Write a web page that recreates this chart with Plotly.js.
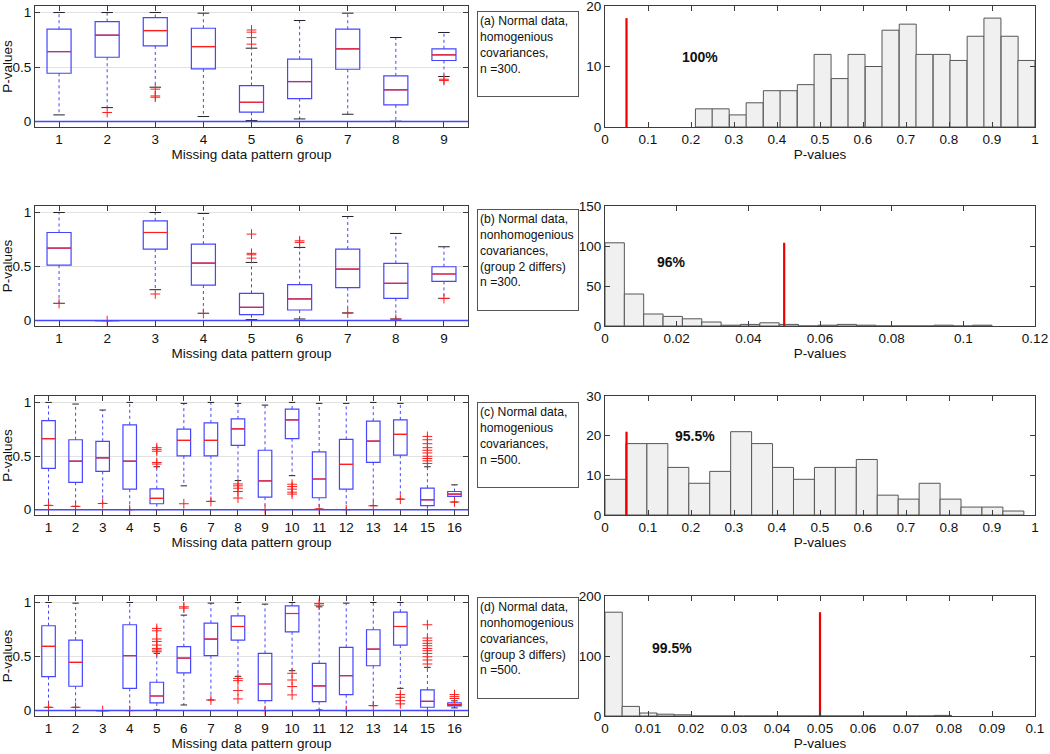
<!DOCTYPE html>
<html><head><meta charset="utf-8">
<script src="https://cdn.plot.ly/plotly-3.0.1.min.js"></script>
<style>html,body{margin:0;padding:0;background:#fff;overflow:hidden}</style>
</head><body><div id="chart" style="width:1050px;height:754px"></div>
<script>
// ---------------- DATA ----------------
// (a) boxplot, 9 groups
const groupsA = [1,2,3,4,5,6,7,8,9];
const q1A  = [0.443,0.590,0.694,0.483,0.086,0.211,0.480,0.153,0.560];
const medA = [0.642,0.792,0.835,0.688,0.177,0.367,0.667,0.291,0.612];
const q3A  = [0.847,0.917,0.954,0.856,0.330,0.572,0.847,0.419,0.667];
const loA  = [0.061,0.128,0.315,0.046,0.009,0.024,0.067,0.003,0.413];
const hiA  = [1.000,1.000,1.000,0.994,0.673,0.927,0.994,0.771,0.817];
const outGA = [2,3,3,3,5,5,5,5,9,9];
const outVA = [0.083,0.297,0.235,0.223,0.84,0.82,0.77,0.71,0.388,0.376];

// (b) boxplot, 9 groups
const groupsB = [1,2,3,4,5,6,7,8,9];
const q1B  = [0.514,0,0.662,0.329,0.055,0.098,0.305,0.206,0.363];
const medB = [0.671,0,0.815,0.532,0.123,0.200,0.477,0.345,0.431];
const q3B  = [0.815,0,0.923,0.708,0.252,0.332,0.662,0.529,0.498];
const loB  = [0.160,0,0.286,0.068,0.009,0.015,0.071,0.015,0.206];
const hiB  = [1.000,0,1.000,0.991,0.538,0.677,0.963,0.806,0.683];
const outGB = [1,2,3,4,5,5,5,5,6,6,7,8,9];
const outVB = [0.158,0.0,0.246,0.066,0.80,0.622,0.609,0.578,0.738,0.723,0.069,0.013,0.204];

// (c) boxplot, 16 groups
const groupsC = [1,2,3,4,5,6,7,8,9,10,11,12,13,14,15,16];
const q1C  = [0.385,0.255,0.357,0.191,0.055,0.502,0.502,0.600,0.117,0.662,0.111,0.191,0.440,0.508,0.037,0.123];
const medC = [0.662,0.452,0.483,0.452,0.105,0.646,0.646,0.754,0.268,0.837,0.286,0.422,0.640,0.702,0.092,0.145];
const q3C  = [0.831,0.652,0.637,0.791,0.194,0.751,0.809,0.846,0.554,0.938,0.538,0.655,0.825,0.837,0.200,0.169];
const loC  = [0.040,0.031,0.058,0.000,0.000,0.222,0.077,0.271,0.000,0.317,0.006,0.000,0.037,0.098,0.000,0.071];
const hiC  = [1.000,0.985,0.929,1.000,0.400,0.991,1.000,0.991,0.975,1.000,0.991,0.991,1.000,0.991,0.400,0.231];
const outGC = [1,2,3,4,5,5,5,5,5,6,7,8,8,8,8,8,9,10,10,10,10,10,11,12,13,14,15,15,15,15,15,15,15,15,15,15,16];
const outVC = [0.039,0.030,0.057,0.0,0.578,0.562,0.545,0.440,0.425,0.055,0.077,0.240,0.222,0.200,0.169,0.108,0.0,0.237,0.215,0.191,0.163,0.145,0.006,0.0,0.036,0.098,0.683,0.652,0.615,0.578,0.554,0.529,0.498,0.477,0.455,0.431,0.071];

// (d) boxplot, 16 groups
const groupsD = [1,2,3,4,5,6,7,8,9,10,11,12,13,14,15,16];
const q1D  = [0.314,0.225,0,0.206,0.071,0.348,0.508,0.652,0.092,0.729,0.083,0.148,0.415,0.606,0.031,0.043];
const medD = [0.594,0.446,0,0.508,0.135,0.486,0.662,0.778,0.246,0.898,0.228,0.323,0.569,0.778,0.086,0.055];
const q3D  = [0.785,0.652,0,0.794,0.262,0.591,0.809,0.877,0.529,0.969,0.437,0.585,0.748,0.911,0.191,0.071];
const loD  = [0.031,0.031,0,0.000,0.006,0.052,0.098,0.317,0.000,0.369,0.006,0.000,0.046,0.206,0.000,0.025];
const hiD  = [1.000,0.994,0,1.000,0.530,0.883,0.994,1.000,0.985,1.000,0.960,0.994,1.000,1.000,0.400,0.090];
const outGD = [1,2,3,4,5,5,5,5,5,5,5,5,6,6,7,8,8,8,8,9,10,10,10,10,11,11,12,13,14,14,14,14,15,15,15,15,15,15,15,15,15,15,15,16,16,16];
const outVD = [0.030,0.030,0.0,0.0,0.760,0.738,0.662,0.640,0.606,0.575,0.560,0.545,0.960,0.948,0.098,0.298,0.277,0.185,0.108,0.0,0.345,0.283,0.222,0.145,0.991,0.975,0.0,0.046,0.148,0.123,0.092,0.062,0.794,0.671,0.646,0.622,0.600,0.575,0.554,0.529,0.498,0.468,0.431,0.148,0.129,0.112];

// Histograms (bin centres, counts, bin width)
const binsA = [0.230,0.269,0.309,0.348,0.388,0.427,0.467,0.506,0.546,0.585,0.625,0.664,0.704,0.743,0.783,0.822,0.862,0.901,0.941,0.980];
const countsA = [3,3,2,4,6,6,7,12,8,12,10,16,17,12,12,11,15,18,15,11];
const widthA = 0.0395;

const binsB = [0.0027,0.0081,0.0135,0.0189,0.0243,0.0297,0.0351,0.0405,0.0459,0.0513,0.0567,0.0621,0.0675,0.0729,0.0783,0.0837,0.0891,0.0945,0.0999,0.1053];
const countsB = [104,40,15,12,9,5,1,2,4,2,0,1,2,1,0,0,0,1,0,1];
const widthB = 0.0054;

const binsC = [0.0244,0.0731,0.1218,0.1705,0.2192,0.2679,0.3166,0.3653,0.4140,0.4627,0.5114,0.5601,0.6088,0.6575,0.7062,0.7549,0.8036,0.8523,0.9010,0.9497];
const countsC = [9,18,18,12,8,11,21,18,12,9,12,12,14,5,4,8,4,2,2,1];
const widthC = 0.0487;

const binsD = [0.0020,0.0060,0.0101,0.0141,0.0181,0.0222,0.0262,0.0302,0.0343,0.0383,0.0423,0.0463,0.0504,0.0544,0.0584,0.0625,0.0665,0.0705,0.0746,0.0786];
const countsD = [173,16,5,3,2,0,0,0,0,0,0,0,0,0,0,0,0,0,0,1];
const widthD = 0.00403;

const alphaLevel = 0.05;
const pctLabels = ['100%','96%','95.5%','99.5%'];
const pctX = [0.22, 0.0186, 0.21, 0.0156];
const pctY = [11.5, 80, 20, 114];

const panelTexts = [
  ['(a) Normal data,','homogenious','covariances,','n =300.'],
  ['(b) Normal data,','nonhomogenious','covariances,','(group 2 differs)','n =300.'],
  ['(c) Normal data,','homogenious','covariances,','n =500.'],
  ['(d) Normal data,','nonhomogenious','covariances,','(group 3 differs)','n =500.']
];
const histRangesX = [[0,1],[0,0.12],[0,1],[0,0.1]];
const histDtickX = [0.1,0.02,0.1,0.01];
const histRangesY = [[0,20],[0,150],[0,30],[0,200]];
const histTicksY = [[0,10,20],[0,50,100,150],[0,10,20,30],[0,100,200]];

// ---------------- BUILD ----------------
const W = 1050, H = 754;
const FONT = "'Liberation Sans',Arial,sans-serif";
const BLUE = 'rgb(70,70,255)', RED = 'rgb(255,30,30)', AX = '#3c3c3c';
const boxDom = [35/W, 468/W], histDom = [605/W, 1035/W];
const rows = [[6,127],[206,326],[396,515],[596,716]];
const textTop = [11,209,402,597];
const ydom = r => [1 - rows[r][1]/H, 1 - rows[r][0]/H];

const boxSets = [
  [groupsA,q1A,medA,q3A,loA,hiA,outGA,outVA],
  [groupsB,q1B,medB,q3B,loB,hiB,outGB,outVB],
  [groupsC,q1C,medC,q3C,loC,hiC,outGC,outVC],
  [groupsD,q1D,medD,q3D,loD,hiD,outGD,outVD]
];
const histSets = [[binsA,countsA,widthA],[binsB,countsB,widthB],[binsC,countsC,widthC],[binsD,countsD,widthD]];

const traces = [], layout = {
  width: W, height: H, margin:{l:0,r:0,t:0,b:0}, showlegend:false,
  paper_bgcolor:'#fff', plot_bgcolor:'#fff',
  font:{family:FONT, size:13, color:'#111'},
  shapes:[], annotations:[]
};

function axBase(extra){
  return Object.assign({showline:true, linecolor:AX, linewidth:1, mirror:'ticks', ticks:'inside',
    ticklen:5, tickcolor:AX, tickwidth:1, zeroline:false, showgrid:false, ticklabeloverflow:'allow',
    tickfont:{family:FONT,size:13.5,color:'#111'}, fixedrange:true}, extra);
}

for (let r=0;r<4;r++){
  const bi = 2*r+1, hi = 2*r+2;
  const bx = 'x'+(bi===1?'':bi), by = 'y'+(bi===1?'':bi);
  const hx = 'x'+hi, hy = 'y'+hi;
  const [g,q1,med,q3,lo,hiv,og,ov] = boxSets[r];
  const n = g.length;
  traces.push({type:'box', x:g, q1:q1, median:med, q3:q3, lowerfence:q1, upperfence:q3,
    width:0.5, whiskerwidth:0, boxpoints:false, line:{color:BLUE,width:1.2},
    fillcolor:'rgba(0,0,0,0)', xaxis:bx, yaxis:by, hoverinfo:'skip'});
  const wx=[], wy=[], cx=[], cy=[], mx=[], my=[];
  g.forEach((gg,i)=>{
    wx.push(gg,gg,null,gg,gg,null); wy.push(q3[i],hiv[i],null,q1[i],lo[i],null);
    cx.push(gg-0.12,gg+0.12,null,gg-0.12,gg+0.12,null); cy.push(hiv[i],hiv[i],null,lo[i],lo[i],null);
    mx.push(gg-0.25,gg+0.25,null); my.push(med[i],med[i],null);
  });
  traces.push({type:'scatter',mode:'lines',x:wx,y:wy,line:{color:BLUE,width:1,dash:'dot'},xaxis:bx,yaxis:by,hoverinfo:'skip'});
  traces.push({type:'scatter',mode:'lines',x:cx,y:cy,line:{color:'#222',width:1},xaxis:bx,yaxis:by,hoverinfo:'skip'});
  traces.push({type:'scatter',mode:'lines',x:mx,y:my,line:{color:RED,width:1.2},xaxis:bx,yaxis:by,hoverinfo:'skip'});
  traces.push({type:'scatter',mode:'markers',x:og,y:ov,marker:{symbol:'cross-thin',size:7,line:{color:RED,width:1}},xaxis:bx,yaxis:by,hoverinfo:'skip'});
  layout.shapes.push({type:'line',xref:bx+' domain',yref:by,x0:0,x1:1,y0:0,y1:0,line:{color:BLUE,width:1.5}});

  layout['xaxis'+(bi===1?'':bi)] = axBase({domain:boxDom, anchor:by, range:[0.5,n+0.5],
    tickmode:'array', tickvals:g, ticktext:g.map(String),
    title:{text:'Missing data pattern group', font:{family:FONT,size:13.5}, standoff:3}});
  layout['yaxis'+(bi===1?'':bi)] = axBase({domain:ydom(r), anchor:bx, range:[-0.05,1.06],
    tickmode:'array', tickvals:[0,0.5,1], ticktext:['0','0.5','1'], showgrid:true, gridcolor:'#e2e2e2',
    title:{text:'P-values', font:{family:FONT,size:13.5}, standoff:6}});

  const [bins,counts,bw] = histSets[r];
  traces.push({type:'bar', x:bins, y:counts, width:bw, marker:{color:'#f0f0f0', line:{color:'#555',width:1}},
    xaxis:hx, yaxis:hy, hoverinfo:'skip'});
  traces.push({type:'scatter',mode:'lines',x:[alphaLevel,alphaLevel],y:[0,Math.max(...counts)],
    line:{color:'#ee0000',width:2.2},xaxis:hx,yaxis:hy,hoverinfo:'skip'});
  layout['xaxis'+hi] = axBase({domain:histDom, anchor:hy, range:histRangesX[r], dtick:histDtickX[r], tick0:0,
    title:{text:'P-values', font:{family:FONT,size:13.5}, standoff:3}});
  layout['yaxis'+hi] = axBase({domain:ydom(r), anchor:hx, range:histRangesY[r],
    tickmode:'array', tickvals:histTicksY[r], ticktext:histTicksY[r].map(String)});
  layout.annotations.push({xref:hx, yref:hy, x:pctX[r], y:pctY[r], text:'<b>'+pctLabels[r]+'</b>',
    showarrow:false, font:{family:FONT,size:14,color:'#111'}});

  const lines = panelTexts[r];
  layout.annotations.push({xref:'paper', yref:'paper', x:477/W, y:1-textTop[r]/H, xanchor:'left', yanchor:'top',
    text:lines.join('<br>'), align:'left', valign:'top', showarrow:false,
    width:96, height: lines.length===4 ? 80 : 96, borderpad:2, bordercolor:'#555', borderwidth:1, bgcolor:'#fff',
    font:{family:FONT,size:12.2,color:'#111'}});
}

Plotly.newPlot('chart', traces, layout, {staticPlot:true, displayModeBar:false});
</script></body></html>
